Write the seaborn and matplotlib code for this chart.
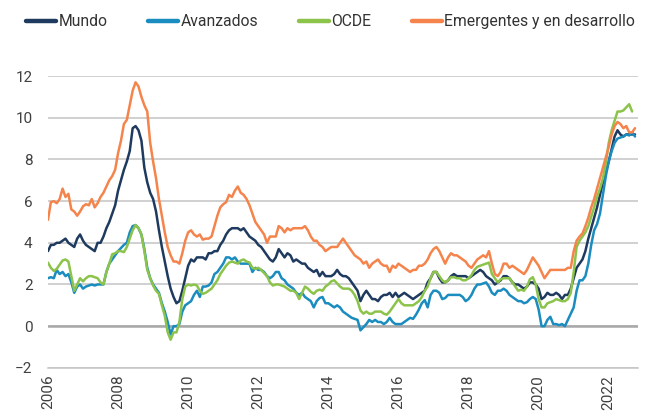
"""
Inflación: Mundo, Avanzados, OCDE y Emergentes (2006-2022), datos mensuales.
"""
import numpy as np
import pandas as pd
import matplotlib
matplotlib.use("Agg")
import matplotlib.pyplot as plt
import seaborn as sns

# valores mensuales desde ene-2006
mundo = [
    3.6, 3.9, 3.9, 4.0, 4.0, 4.1, 4.2, 4.0, 3.9, 3.8, 4.2, 4.4,
    4.1, 3.9, 3.8, 3.7, 3.6, 4.0, 4.0, 4.3, 4.7, 5.0, 5.4, 5.8,
    6.5, 7.0, 7.5, 7.9, 8.4, 9.5, 9.6, 9.4, 8.9, 7.6, 6.9, 6.4,
    6.1, 5.5, 4.6, 3.8, 3.1, 2.4, 1.8, 1.4, 1.1, 1.2, 1.7, 2.3,
    2.9, 3.2, 3.1, 3.3, 3.3, 3.3, 3.2, 3.5, 3.5, 3.6, 3.6, 3.9,
    4.1, 4.4, 4.6, 4.7, 4.7, 4.7, 4.6, 4.7, 4.5, 4.3, 4.2, 4.1,
    3.9, 3.8, 3.6, 3.4, 3.2, 3.1, 3.3, 3.7, 3.5, 3.3, 3.5, 3.4,
    3.1, 3.2, 3.1, 3.0, 3.0, 2.8, 2.7, 2.6, 2.7, 2.4, 2.6, 2.4,
    2.4, 2.4, 2.5, 2.7, 2.5, 2.4, 2.4, 2.3, 2.1, 1.9, 1.7, 1.2,
    1.5, 1.7, 1.5, 1.3, 1.3, 1.2, 1.4, 1.5, 1.5, 1.6, 1.4, 1.6,
    1.4, 1.5, 1.6, 1.5, 1.4, 1.3, 1.4, 1.5, 1.6, 1.7, 2.1, 2.3,
    2.6, 2.6, 2.3, 2.1, 2.1, 2.2, 2.4, 2.5, 2.4, 2.4, 2.4, 2.4,
    2.3, 2.4, 2.5, 2.6, 2.7, 2.6, 2.4, 2.3, 2.2, 2.0, 2.1, 2.2,
    2.4, 2.4, 2.3, 2.1, 2.0, 2.0, 1.9, 1.8, 1.9, 2.1, 2.1, 2.0,
    1.8, 1.3, 1.4, 1.6, 1.5, 1.5, 1.6, 1.5, 1.3, 1.5, 1.5, 1.8,
    2.3, 2.8, 3.0, 3.2, 3.6, 4.2, 4.7, 5.2, 5.7, 6.3, 6.9, 7.4,
    7.9, 8.5, 9.1, 9.4, 9.2, 9.1, 9.2, 9.2, 9.2, 9.2,
]
avanzados = [
    2.3, 2.35, 2.3, 2.7, 2.5, 2.6, 2.4, 2.5, 2.1, 1.6, 1.9, 2.0,
    1.8, 1.9, 1.95, 2.0, 1.95, 2.0, 2.0, 2.0, 2.6, 3.0, 3.2, 3.4,
    3.6, 3.75, 3.9, 4.0, 4.5, 4.8, 4.85, 4.7, 4.4, 3.7, 2.8, 2.3,
    2.0, 1.8, 1.6, 1.1, 0.7, 0.2, -0.4, 0.0, 0.0, 0.1, 0.7, 1.0,
    1.1, 1.2, 1.5, 1.7, 1.4, 1.9, 1.9, 1.95, 2.1, 2.5, 2.6, 2.8,
    3.0, 3.3, 3.3, 3.2, 3.3, 3.1, 3.0, 3.0, 3.0, 3.0, 2.6, 2.8,
    2.7, 2.7, 2.6, 2.4, 2.3, 2.4, 2.6, 2.6, 2.3, 2.2, 2.0, 1.9,
    1.8, 1.6, 1.5, 1.6, 1.4, 1.3, 1.2, 0.9, 1.2, 1.35, 1.4, 1.1,
    1.1, 1.0, 0.9, 1.0, 0.9, 0.7, 0.6, 0.5, 0.4, 0.35, 0.3, -0.2,
    -0.05, 0.1, 0.3, 0.2, 0.3, 0.2, 0.2, 0.1, 0.2, 0.4, 0.2, 0.1,
    0.1, 0.1, 0.2, 0.3, 0.4, 0.35, 0.55, 0.8, 1.1, 1.25, 0.9, 1.5,
    1.7, 1.7, 1.6, 1.3, 1.35, 1.5, 1.5, 1.5, 1.5, 1.5, 1.4, 1.2,
    1.3, 1.5, 1.8, 2.0, 2.0, 2.05, 2.1, 1.9, 1.6, 1.5, 1.7, 1.7,
    1.8, 1.7, 1.5, 1.4, 1.3, 1.2, 1.2, 1.1, 1.15, 1.3, 1.4, 1.3,
    0.8, 0.0, 0.0, 0.3, 0.45, 0.1, 0.1, 0.05, 0.1, 0.0, 0.3, 0.6,
    0.9, 1.7, 2.2, 2.2, 2.4, 3.0, 3.9, 4.6, 4.9, 5.4, 6.3, 7.2,
    7.9, 8.4, 8.8, 9.0, 9.05, 9.1, 9.2, 9.15, 9.3, 9.1,
]
ocde = [
    3.05, 2.8, 2.65, 2.75, 2.95, 3.15, 3.2, 3.1, 2.4, 1.7, 2.0, 2.3,
    2.15, 2.3, 2.4, 2.4, 2.35, 2.3, 2.1, 2.0, 2.6, 3.0, 3.45, 3.5,
    3.6, 3.6, 3.55, 3.8, 4.2, 4.6, 4.85, 4.7, 4.4, 3.6, 2.7, 2.3,
    1.95, 1.7, 1.55, 1.0, 0.5, -0.3, -0.65, -0.3, -0.3, 0.2, 1.3, 1.9,
    2.0, 1.95, 2.0, 1.95, 1.7, 1.55, 1.6, 1.7, 1.8, 2.0, 2.2, 2.5,
    2.7, 2.9, 3.05, 3.1, 3.05, 3.0, 3.15, 3.2, 3.1, 3.05, 2.8, 2.75,
    2.8, 2.7, 2.55, 2.4, 2.1, 1.95, 2.0, 2.0, 1.95, 1.9, 1.8, 1.7,
    1.7, 1.6, 1.3, 1.6, 1.9, 1.8, 1.65, 1.55, 1.7, 1.75, 1.7, 1.9,
    2.0, 2.15, 2.2, 2.05, 1.9, 1.8, 1.8, 1.8, 1.7, 1.5, 1.2, 0.75,
    0.6, 0.7, 0.6, 0.6, 0.7, 0.7, 0.7, 0.6, 0.55, 0.7, 0.9, 1.1,
    1.3, 1.1, 1.0, 1.0, 1.0, 1.0, 1.1, 1.2, 1.4, 1.7, 1.9, 2.3,
    2.6, 2.6, 2.4, 2.2, 2.1, 2.2, 2.35, 2.35, 2.3, 2.3, 2.2, 2.2,
    2.3, 2.45, 2.7, 2.85, 2.9, 2.95, 3.0, 3.05, 2.5, 2.3, 2.1, 2.25,
    2.3, 2.3, 2.3, 2.1, 1.9, 1.7, 1.75, 1.7, 1.9, 2.25, 2.35, 2.0,
    1.3, 0.9, 0.9, 1.1, 1.15, 1.2, 1.3, 1.25, 1.2, 1.2, 1.3, 1.6,
    2.6, 3.8, 4.1, 4.3, 4.5, 4.8, 5.25, 5.7, 6.2, 6.6, 7.1, 7.8,
    8.8, 9.4, 9.85, 10.3, 10.3, 10.35, 10.5, 10.65, 10.3,
]
emergentes = [
    5.1, 5.95, 6.0, 5.9, 6.1, 6.6, 6.2, 6.35, 5.6, 5.5, 5.3, 5.5,
    5.75, 5.85, 5.8, 6.1, 5.7, 5.9, 6.2, 6.4, 6.7, 7.0, 7.2, 7.5,
    8.3, 8.9, 9.7, 9.9, 10.6, 11.3, 11.7, 11.5, 11.0, 10.6, 10.3, 8.8,
    7.9, 7.1, 6.1, 5.3, 4.5, 3.8, 3.4, 3.1, 3.1, 3.0, 3.5, 4.1,
    4.5, 4.6, 4.4, 4.3, 4.4, 4.15, 4.2, 4.2, 4.3, 4.8, 5.3, 5.7,
    5.85, 5.95, 6.3, 6.2, 6.5, 6.7, 6.4, 6.3, 6.1, 5.8, 5.4, 5.0,
    4.8, 4.6, 4.4, 4.0, 4.3, 4.3, 4.3, 4.8, 4.7, 4.5, 4.7, 4.6,
    4.7, 4.7, 4.7, 4.7, 4.8, 4.6, 4.3, 4.1, 4.1, 3.9, 3.8, 3.6,
    3.7, 3.8, 3.8, 3.8, 4.0, 4.2, 4.0, 3.8, 3.6, 3.4, 3.3, 3.2,
    3.0, 3.1, 2.8, 3.0, 3.1, 3.2, 3.0, 2.9, 2.9, 2.6, 2.9, 2.8,
    3.0, 2.9, 2.8, 2.7, 2.6, 2.7, 2.7, 2.9, 2.9, 3.0, 3.2, 3.5,
    3.7, 3.8, 3.6, 3.3, 3.0, 3.3, 3.5, 3.4, 3.4, 3.3, 3.2, 3.1,
    2.9, 2.8, 3.0, 3.2, 3.3, 3.4, 3.3, 3.6, 3.0, 2.5, 2.4, 2.6,
    3.0, 3.0, 2.8, 2.9, 2.8, 2.7, 2.6, 2.5, 2.7, 3.0, 3.3, 3.1,
    2.9, 2.6, 2.3, 2.5, 2.7, 2.7, 2.7, 2.7, 2.7, 2.7, 2.8, 2.8,
    3.6, 4.1, 4.3, 4.45, 4.8, 5.2, 5.7, 6.1, 6.6, 7.1, 7.6, 8.1,
    8.6, 9.2, 9.6, 9.8, 9.7, 9.5, 9.6, 9.3, 9.3, 9.5,
]

series = ["Mundo", "Avanzados", "OCDE", "Emergentes y en desarrollo"]
valores = [mundo, avanzados, ocde, emergentes]
colores = ["#1f3a5f", "#1a8cbf", "#8cc34a", "#f5844c"]
anios = [str(a) for a in range(2006, 2023, 2)]

df = pd.concat([
    pd.DataFrame({"mes": np.arange(len(v)), "valor": v, "serie": s})
    for s, v in zip(series, valores)
])

sns.set_style("white")
plt.rcParams["font.family"] = ["Roboto", "DejaVu Sans"]

fig = plt.figure(figsize=(6.57, 4.18), dpi=100)
ax = fig.add_axes([0.073, 0.12, 0.898, 0.698])

sns.lineplot(data=df, x="mes", y="valor", hue="serie", hue_order=series,
             palette=dict(zip(series, colores)), estimator=None,
             linewidth=1.8, ax=ax)

ax.set_ylim(-2, 12)
ax.set_yticks(range(-2, 13, 2))
ax.set_xlim(0, 202)
ax.set_xticks(range(0, 24 * len(anios), 24))
ax.set_xticklabels(anios, rotation=90)
ax.set_xlabel("")
ax.set_ylabel("")

ax.yaxis.grid(True, color="#c4c4c4", linewidth=1.1)
ax.set_axisbelow(True)
ax.axhline(0, color="#a8a8a8", linewidth=1.8, zorder=1.5)
for s in ["top", "right", "left"]:
    ax.spines[s].set_visible(False)
ax.spines["bottom"].set_color("#c4c4c4")
ax.spines["bottom"].set_linewidth(1.1)
ax.tick_params(axis="both", length=0, labelsize=11, labelcolor="#404040")
ax.tick_params(axis="y", pad=11)
ax.tick_params(axis="x", pad=5)

handles, labels = ax.get_legend_handles_labels()
ax.get_legend().remove()
leg = fig.legend(handles, labels, loc="upper left", bbox_to_anchor=(0.028, 0.985),
                 ncol=4, frameon=False, fontsize=11.3, handlelength=1.9,
                 handletextpad=0.15, columnspacing=2.6, borderpad=0,
                 labelcolor="#333333")
for h in leg.legend_handles:
    h.set_linewidth(3.2)

fig.savefig("out.png", dpi=100)
